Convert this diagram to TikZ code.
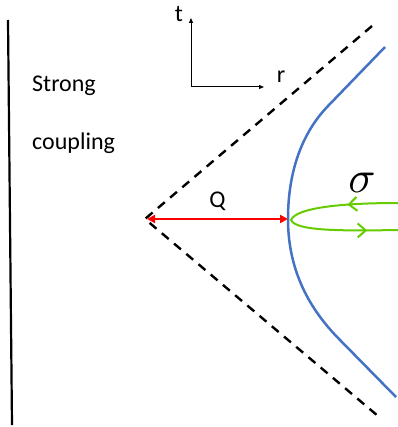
\documentclass[tikz,border=0pt]{standalone}
\usepackage{fontspec}
\setsansfont{Carlito}
\usetikzlibrary{arrows.meta,decorations.markings}
\definecolor{braneblue}{HTML}{4472C4}
\definecolor{loopgreen}{HTML}{66CC00}
\definecolor{gapred}{HTML}{FF0000}

\begin{document}
\begin{tikzpicture}[
  x=1pt, y=-1pt,
  font=\sffamily\fontsize{24}{28}\selectfont,
  lbl/.style  ={inner sep=0pt, anchor=base},
  cone/.style ={line width=2.4pt, dash pattern=on 9pt off 7pt},
  brane/.style={draw=braneblue, line width=2.5pt},
  ax/.style   ={-{Triangle[length=5pt,width=4pt]}, line width=1pt},
  gap/.style  ={{Triangle[length=8pt,width=8pt]}-{Triangle[length=8pt,width=8pt]},
                draw=gapred, line width=2pt},
  strloop/.style={draw=loopgreen, line width=2pt,
                postaction={decorate, decoration={markings,
                  mark=at position 0.23 with {\arrow{Straight Barb[length=8pt,width=14pt,line width=2pt]}},
                  mark=at position 0.86 with {\arrow{Straight Barb[length=8pt,width=14pt,line width=2pt]}}}}},
]
\useasboundingbox (0,0) rectangle (397,427);

% boundary wall
\coordinate (wtop) at (8,20);
\coordinate (wbot) at (12,425);
\draw[line width=2.2pt] (wtop) -- (wbot);

\node[lbl, anchor=base west] (strong) at (32,92) {Strong};
\node[lbl, anchor=base west] (coupl) at (32,150) {coupling};

% axes
\coordinate (o) at (191,87);
\node[lbl] (tlab) at (179,22) {t};
\node[lbl] (rlab) at (281,83) {r};
\draw[ax] (o) -- (191,18);
\draw[ax] (o) -- (264,87);

% light cone
\coordinate (apex) at (145,219);
\coordinate (cup) at (372,26);
\coordinate (cdown) at (378,416);
\draw[cone] (cup) -- (apex) -- (cdown);

% brane
\coordinate (bvertex) at (288,219);
\draw[brane] (385,47) -- (328,106)
  .. controls (300,135) and (288,175) .. (bvertex)
  .. controls (288,265) and (305,305) .. (340,340) -- (396,397);

% distance Q
\draw[gap] ([xshift=2pt]apex) -- (bvertex)
  node[lbl, midway, above=7pt] (qlab) {Q};

% string loop
\draw[strloop] (398,203) .. controls (340,203) and (296,208) .. (291,220)
  .. controls (296,231) and (340,231) .. (398,230);
\node[lbl, font=\fontsize{10}{12}\selectfont] (sig) at (362,193) {\scalebox{4.5}{$\sigma$}};

\end{tikzpicture}
\end{document}
